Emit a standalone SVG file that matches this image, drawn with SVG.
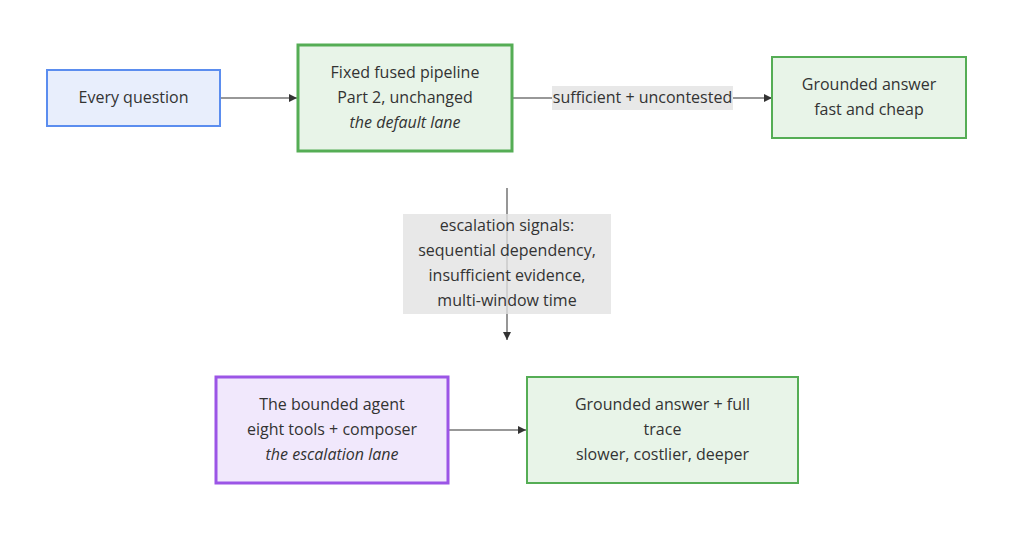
<svg xmlns="http://www.w3.org/2000/svg" width="1024" height="534" viewBox="0 0 1024 534">
<defs>
<style>
.t{font-family:"Open Sans","DejaVu Sans",sans-serif;font-size:16px;fill:#333;text-anchor:middle;dominant-baseline:central}
.i{font-style:italic}
.edge{stroke:#333;stroke-width:1.2;fill:none}
.lbl{fill:#e8e8e8}
.blue{fill:#e8eefc;stroke:#5b8def;stroke-width:2}
.green{fill:#e8f4e8;stroke:#55ad55;stroke-width:2}
.green3{fill:#e8f4e8;stroke:#55ad55;stroke-width:3}
.purple{fill:#f1e8fc;stroke:#9b55e6;stroke-width:3}
</style>
<marker id="arr" viewBox="0 0 10 10" refX="10" refY="5" markerWidth="8" markerHeight="8" orient="auto" markerUnits="userSpaceOnUse">
<path d="M0,0 L10,5 L0,10 z" fill="#333"/>
</marker>
</defs>
<rect width="1024" height="534" fill="#fff"/>
<g id="connectors">
<line class="edge" x1="220" y1="98" x2="297" y2="98" marker-end="url(#arr)"/>
<line class="edge" x1="513" y1="98" x2="772" y2="98" marker-end="url(#arr)"/>
<line class="edge" x1="448" y1="430" x2="526" y2="430" marker-end="url(#arr)"/>
<rect class="lbl" x="552" y="86" width="181" height="24"/>
<text class="t" x="642.5" y="97">sufficient + uncontested</text>
<rect class="lbl" x="403" y="214" width="208" height="100"/>
<line class="edge" x1="507" y1="188" x2="507" y2="340" marker-end="url(#arr)" stroke-opacity="0.85"/>
<rect class="lbl" x="403" y="214" width="208" height="100" opacity="0.75"/>
<text class="t" x="507" y="225">escalation signals:</text>
<text class="t" x="507" y="250">sequential dependency,</text>
<text class="t" x="507" y="275">insufficient evidence,</text>
<text class="t" x="507" y="300">multi-window time</text>
</g>
<g id="every-question">
<rect class="blue" x="47" y="70" width="173" height="56"/>
<text class="t" x="133.5" y="97">Every question</text>
</g>
<g id="pipeline">
<rect class="green3" x="298" y="45" width="214" height="106"/>
<text class="t" x="405" y="72">Fixed fused pipeline</text>
<text class="t" x="405" y="97">Part 2, unchanged</text>
<text class="t i" x="405" y="122">the default lane</text>
</g>
<g id="grounded-fast">
<rect class="green" x="772" y="57" width="194" height="81"/>
<text class="t" x="869" y="84">Grounded answer</text>
<text class="t" x="869" y="109">fast and cheap</text>
</g>
<g id="agent">
<rect class="purple" x="216" y="377" width="232" height="106"/>
<text class="t" x="332" y="404">The bounded agent</text>
<text class="t" x="332" y="429">eight tools + composer</text>
<text class="t i" x="332" y="454">the escalation lane</text>
</g>
<g id="grounded-full">
<rect class="green" x="527" y="377" width="271" height="106"/>
<text class="t" x="662.5" y="404">Grounded answer + full</text>
<text class="t" x="662.5" y="429">trace</text>
<text class="t" x="662.5" y="454">slower, costlier, deeper</text>
</g>
</svg>
